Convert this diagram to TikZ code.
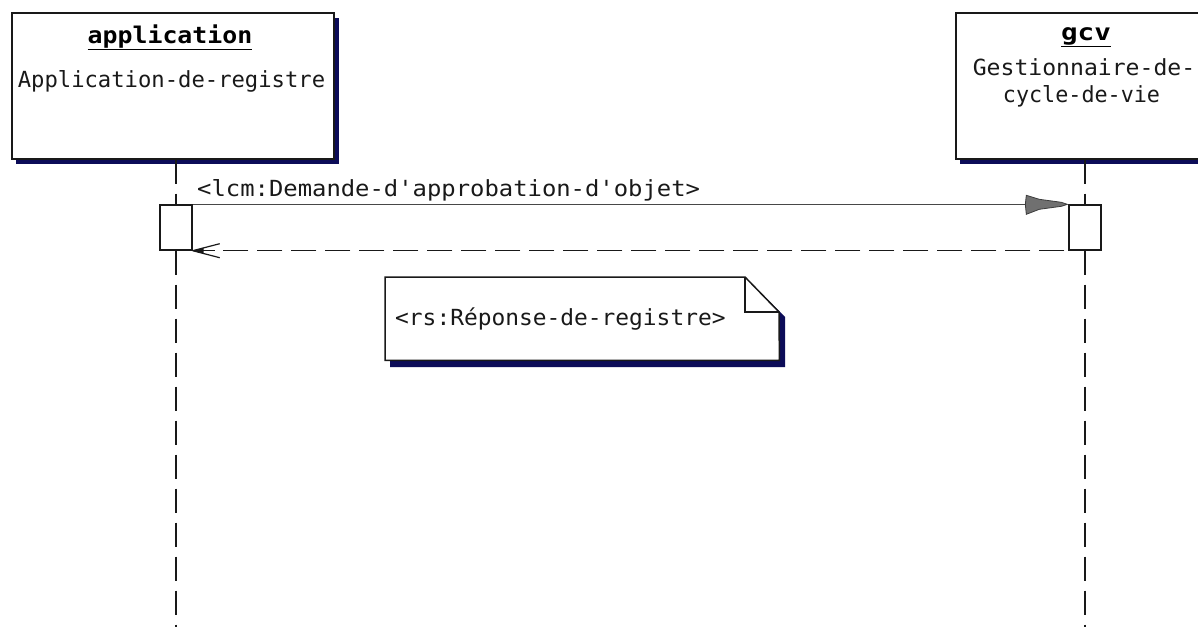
\documentclass[tikz,border=0pt]{standalone}
\usepackage{fontspec}
\newfontfamily\pix{DejaVu Sans Mono}
\usetikzlibrary{calc}
\definecolor{navy}{RGB}{12,12,88}
\definecolor{arrowgray}{RGB}{112,112,112}
\definecolor{ink}{RGB}{25,25,25}
\begin{document}
\begin{tikzpicture}[x=1pt,y=-1pt,
  objbox/.style={draw=ink, line width=1.5pt, fill=white, inner sep=0pt, anchor=north west},
  actbox/.style={draw=ink, line width=1.4pt, fill=white, inner sep=0pt, minimum width=32pt, minimum height=45pt},
  shadowfill/.style={fill=navy, draw=none},
  txt/.style={font=\pix\fontsize{22.2}{26}\selectfont, text=ink, anchor=base, inner sep=0pt},
  btxt/.style={font=\pix\bfseries\fontsize{23}{26}\selectfont, text=black, anchor=base, inner sep=0pt},
  life/.style={draw=ink, line width=1.3pt, dash pattern=on 24pt off 10pt},
  msg/.style={draw=ink!80, line width=1.3pt},
  ret/.style={draw=ink, line width=1.3pt, dash pattern=on 25pt off 9pt, dash phase=-4pt},
]
\clip (0,0) rectangle (1198,633);
\fill[white] (0,0) rectangle (1198,633);

% object boxes with shadows
\fill[shadowfill] (16,18) rectangle (339,164);
\node[objbox, minimum width=322pt, minimum height=146pt] (box1) at (11,12) {};
\fill[shadowfill] (960,18) rectangle (1240,164);
\node[objbox, minimum width=270pt, minimum height=146pt] (box2) at (955,12) {};

% box texts
\node[btxt] (t1) at (170,43) {\scalebox{1.08}[1]{\underline{application}}};
\node[txt] (t2) at (171.5,87) {Application-de-registre};
\node[btxt] (t3) at (1086,40) {\scalebox{1.2}[1]{\underline{gcv}}};
\node[txt] (t4) at (1084,75) {\scalebox{1.04}[1]{Gestionnaire-de-}};
\node[txt] (t5) at (1081.5,102) {\scalebox{0.98}[1]{cycle-de-vie}};

% activations
\node[actbox] (act1) at (176,227.5) {};
\node[actbox] (act2) at (1085,227.5) {};

% lifelines
\draw[life] (box1.south -| act1) -- (act1.north);
\draw[life] (act1.south) -- ++(0,376);
\draw[life] (box2.south -| act2) -- (act2.north);
\draw[life] (act2.south) -- ++(0,376);

% call message
\draw[msg] (act1.north east) -- ($(act2.north west)+(-40,0)$);
\begin{scope}[shift={(act2.north west)}]
  \filldraw[fill=arrowgray, draw=ink!85, line width=0.8pt]
    (-42,-9) -- (-29,-5) -- (-7,-2) -- (-1,0) -- (-7,2) -- (-29,5) -- (-42,10) -- (-43,0) -- cycle;
\end{scope}
\node[txt, anchor=base west] (m1) at (197,196) {\scalebox{1.075}[1]{<lcm:Demande-d'approbation-d'objet>}};

% return message
\draw[ret] (act2.south west) -- ($(act1.south east)+(12,0)$);
\begin{scope}[shift={(act1.south east)}]
  \fill[ink] (0,0) -- (11,-3) -- (11,3) -- cycle;
  \draw[ink, line width=1.2pt] (0,0) -- (27,-7);
  \draw[ink, line width=1.2pt] (0,0) -- (22,0);
  \draw[ink, line width=1.2pt] (0,0) -- (27,7);
\end{scope}

% note
\node[inner sep=0pt, minimum width=394pt, minimum height=83pt, anchor=north west] (note) at (385,277) {};
\fill[shadowfill] (390,282) -- (750,282) -- (785,317) -- (785,367) -- (390,367) -- cycle;
\filldraw[fill=white, draw=ink, line width=1.5pt]
  (note.north west) -- (745,277) -- (779,312) -- (note.south east) -- (note.south west) -- cycle;
\draw[ink, line width=1.5pt] (745,277) -- (745,312) -- (779,312);
\node[txt, anchor=base west] (n1) at (395,325) {\scalebox{1.03}[1]{<rs:Réponse-de-registre>}};
\end{tikzpicture}
\end{document}
